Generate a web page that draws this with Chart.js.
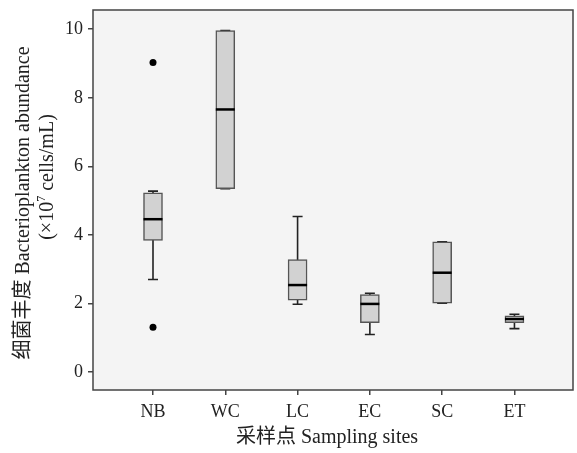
<!DOCTYPE html>
<html>
<head>
<meta charset="utf-8">
<script src="https://cdn.jsdelivr.net/npm/chart.js@4/dist/chart.umd.min.js"></script>
<style>
  body { margin: 0; background: #fff; }
</style>
</head>
<body>
<canvas id="chart" width="577" height="453"></canvas>
<script>
const categories = ['NB', 'WC', 'LC', 'EC', 'SC', 'ET'];
const whiskerLow = [2.70, 5.35, 1.98, 1.10, 2.01, 1.27];
const q1 = [3.84, 5.35, 2.10, 1.44, 2.01, 1.44];
const median = [4.46, 7.66, 2.54, 1.99, 2.90, 1.55];
const q3 = [5.23, 9.96, 3.28, 2.26, 3.80, 1.64];
const whiskerHigh = [5.28, 9.96, 4.54, 2.30, 3.80, 1.69];
const outlierSite = [0, 0];
const outlierValue = [9.03, 1.31];
const yTicks = [0, 2, 4, 6, 8, 10];

const FONT = '"Liberation Serif", "Noto Sans CJK SC", serif';

const boxPlugin = {
  id: 'boxparts',
  beforeDraw(chart) {
    const { ctx, chartArea: a } = chart;
    ctx.save();
    ctx.fillStyle = '#f4f4f4';
    ctx.fillRect(a.left, a.top, a.right - a.left, a.bottom - a.top);
    ctx.restore();
  },
  beforeDatasetsDraw(chart) {
    const { ctx, scales: { x, y } } = chart;
    ctx.save();
    ctx.strokeStyle = '#222';
    ctx.lineWidth = 1.6;
    categories.forEach((c, i) => {
      const px = x.getPixelForValue(i);
      const lo = y.getPixelForValue(whiskerLow[i]);
      const hi = y.getPixelForValue(whiskerHigh[i]);
      ctx.beginPath();
      ctx.moveTo(px, lo); ctx.lineTo(px, hi);
      ctx.moveTo(px - 5, lo); ctx.lineTo(px + 5, lo);
      ctx.moveTo(px - 5, hi); ctx.lineTo(px + 5, hi);
      ctx.stroke();
    });
    ctx.restore();
  },
  afterDatasetsDraw(chart) {
    const { ctx, scales: { x, y } } = chart;
    ctx.save();
    ctx.strokeStyle = '#000';
    ctx.lineWidth = 2.5;
    categories.forEach((c, i) => {
      const px = x.getPixelForValue(i);
      const m = y.getPixelForValue(median[i]);
      ctx.beginPath();
      ctx.moveTo(px - 9.5, m); ctx.lineTo(px + 9.5, m);
      ctx.stroke();
    });
    ctx.restore();
  },
  afterDraw(chart) {
    const { ctx, chartArea: a } = chart;
    ctx.save();
    ctx.strokeStyle = '#444';
    ctx.lineWidth = 1.5;
    ctx.strokeRect(a.left, a.top, a.right - a.left, a.bottom - a.top);

    ctx.fillStyle = '#222';
    ctx.textBaseline = 'middle';
    ctx.textAlign = 'center';
    ctx.font = '20px ' + FONT;
    ctx.fillText('采样点 Sampling sites', 327, 438);

    // y title, two rotated lines
    ctx.translate(24, 203);
    ctx.rotate(-Math.PI / 2);
    ctx.fillText('细菌丰度 Bacterioplankton abundance', 0, 0);
    ctx.rotate(Math.PI / 2);
    ctx.translate(-24, -203);

    ctx.translate(48, 177);
    ctx.rotate(-Math.PI / 2);
    const p1 = '(×10', p2 = '7', p3 = ' cells/mL)';
    ctx.font = '20px ' + FONT;
    const w1 = ctx.measureText(p1).width, w3 = ctx.measureText(p3).width;
    ctx.font = '12px ' + FONT;
    const w2 = ctx.measureText(p2).width;
    let sx = -(w1 + w2 + w3) / 2;
    ctx.textAlign = 'left';
    ctx.font = '20px ' + FONT;
    ctx.fillText(p1, sx, 0);
    ctx.font = '12px ' + FONT;
    ctx.fillText(p2, sx + w1, -6);
    ctx.font = '20px ' + FONT;
    ctx.fillText(p3, sx + w1 + w2, 0);
    ctx.restore();
  }
};

new Chart(document.getElementById('chart'), {
  type: 'bar',
  data: {
    datasets: [{
      label: 'box',
      data: categories.map((c, i) => ({ x: i, y: [q1[i], q3[i]] })),
      backgroundColor: '#d2d2d2',
      borderColor: '#555',
      borderWidth: 1.5,
      borderSkipped: false,
      barThickness: 19
    }, {
      type: 'scatter',
      label: 'outliers',
      data: outlierSite.map((s, i) => ({ x: s, y: outlierValue[i] })),
      pointRadius: 3.5,
      pointBackgroundColor: '#000',
      pointBorderWidth: 0
    }]
  },
  options: {
    responsive: false,
    devicePixelRatio: 1,
    animation: false,
    layout: { padding: { top: 10, right: 4, left: 0, bottom: 0 } },
    plugins: { legend: { display: false }, tooltip: { enabled: false } },
    scales: {
      x: {
        type: 'linear',
        offset: false,
        min: -0.83,
        max: 5.81,
        afterBuildTicks: s => { s.ticks = categories.map((c, i) => ({ value: i })); },
        afterFit: s => { s.height = 63; s.paddingLeft = 0; s.paddingRight = 0; },
        grid: { offset: false, drawOnChartArea: false, drawTicks: true, tickLength: 5, color: '#444', lineWidth: 1.5 },
        border: { display: false },
        ticks: {
          callback: v => categories[v],
          color: '#222',
          padding: 6,
          maxRotation: 0,
          font: { family: FONT, size: 18 }
        }
      },
      y: {
        min: -0.52,
        max: 10.56,
        afterBuildTicks: s => { s.ticks = yTicks.map(v => ({ value: v })); },
        afterFit: s => { s.width = 93; s.paddingTop = 0; s.paddingBottom = 0; },
        grid: { drawOnChartArea: false, drawTicks: true, tickLength: 5, color: '#444', lineWidth: 1.5 },
        border: { display: false },
        ticks: {
          color: '#222',
          padding: 5,
          font: { family: FONT, size: 18 }
        }
      }
    }
  },
  plugins: [boxPlugin]
});
</script>
</body>
</html>
